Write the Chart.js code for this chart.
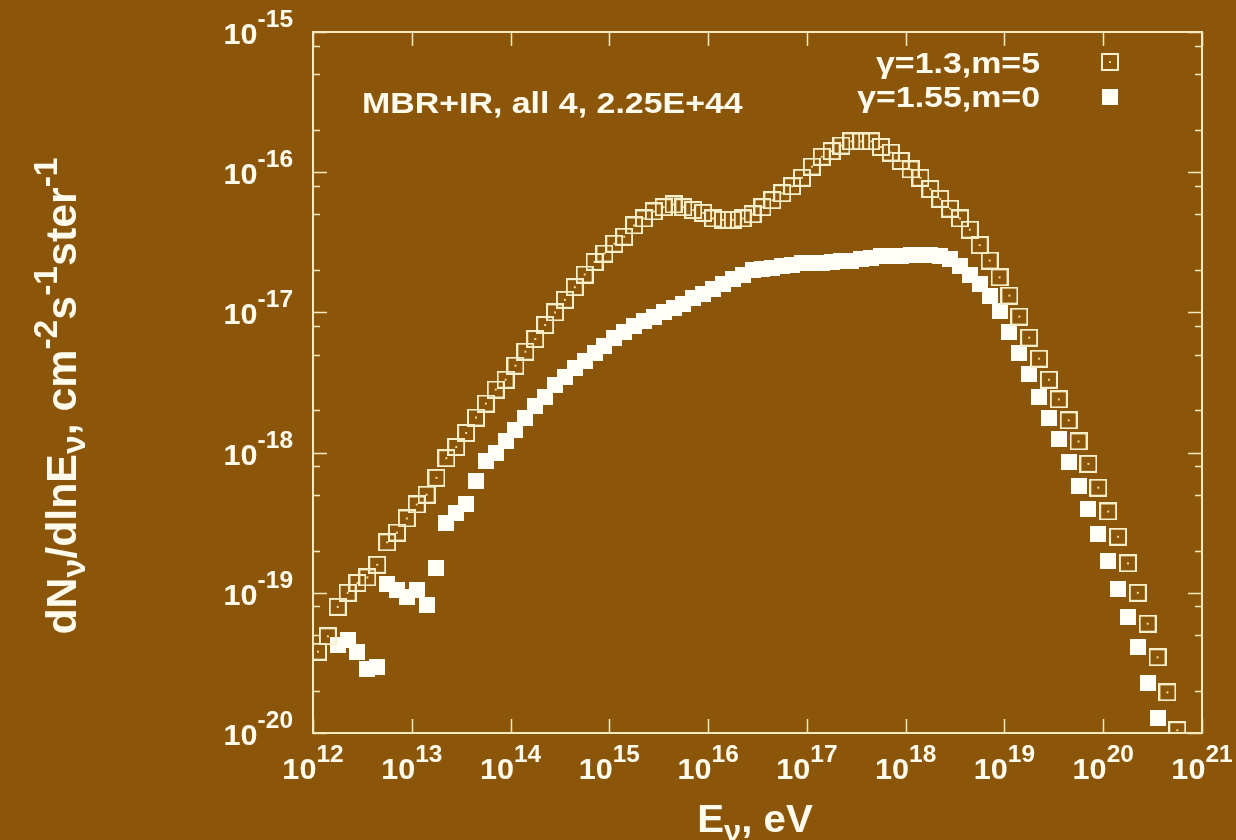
<!DOCTYPE html>
<html>
<head>
<meta charset="utf-8">
<script src="https://cdn.jsdelivr.net/npm/chart.js@4.4.1/dist/chart.umd.min.js"></script>
<style>
html,body{margin:0;padding:0;background:#8b5609;}
canvas{display:block;}
</style>
</head>
<body>
<canvas id="spec" width="1236" height="840"></canvas>
<script>
// energy grid, log10(E/eV)
const lgE = [
  12.05,12.15,12.25,12.35,12.45,12.55,12.65,12.75,12.85,12.95,
  13.05,13.15,13.25,13.35,13.45,13.55,13.65,13.75,13.85,13.95,
  14.05,14.15,14.25,14.35,14.45,14.55,14.65,14.75,14.85,14.95,
  15.05,15.15,15.25,15.35,15.45,15.55,15.65,15.75,15.85,15.95,
  16.05,16.15,16.25,16.35,16.45,16.55,16.65,16.75,16.85,16.95,
  17.05,17.15,17.25,17.35,17.45,17.55,17.65,17.75,17.85,17.95,
  18.05,18.15,18.25,18.35,18.45,18.55,18.65,18.75,18.85,18.95,
  19.05,19.15,19.25,19.35,19.45,19.55,19.65,19.75,19.85,19.95,
  20.05,20.15,20.25,20.35,20.45,20.55,20.65,20.75
];

// log10 of dN/dlnE, gamma=1.3, m=5
const lgFluxA = [
  -19.42,-19.31,-19.10,-19.00,-18.93,-18.89,-18.80,-18.64,-18.57,-18.47,
  -18.37,-18.30,-18.18,-18.04,-17.96,-17.86,-17.75,-17.65,-17.55,-17.48,
  -17.38,-17.28,-17.19,-17.09,-17.00,-16.91,-16.82,-16.73,-16.64,-16.58,
  -16.51,-16.46,-16.38,-16.33,-16.28,-16.25,-16.23,-16.25,-16.27,-16.29,
  -16.33,-16.34,-16.34,-16.33,-16.30,-16.25,-16.20,-16.15,-16.10,-16.04,
  -15.96,-15.89,-15.85,-15.81,-15.78,-15.78,-15.78,-15.82,-15.86,-15.92,
  -15.98,-16.04,-16.12,-16.19,-16.26,-16.33,-16.41,-16.52,-16.63,-16.75,
  -16.88,-17.03,-17.18,-17.33,-17.48,-17.62,-17.77,-17.92,-18.08,-18.25,
  -18.42,-18.60,-18.79,-19.00,-19.22,-19.46,-19.71,-19.98
];

// log10 of dN/dlnE, gamma=1.55, m=0 (no points in the first two and last two bins)
const lgFluxB = [
  null,null,-19.37,-19.34,-19.42,-19.54,-19.53,-18.94,-18.98,-19.03,
  -18.98,-19.09,-18.82,-18.50,-18.43,-18.37,-18.20,-18.06,-18.00,-17.92,
  -17.84,-17.75,-17.67,-17.60,-17.52,-17.46,-17.40,-17.35,-17.29,-17.24,
  -17.18,-17.14,-17.10,-17.06,-17.03,-17.00,-16.97,-16.94,-16.90,-16.87,
  -16.83,-16.80,-16.76,-16.73,-16.70,-16.69,-16.68,-16.67,-16.66,-16.65,
  -16.65,-16.65,-16.64,-16.63,-16.63,-16.62,-16.61,-16.60,-16.60,-16.60,
  -16.59,-16.59,-16.59,-16.60,-16.62,-16.67,-16.73,-16.80,-16.88,-16.99,
  -17.14,-17.29,-17.44,-17.60,-17.75,-17.90,-18.07,-18.24,-18.40,-18.58,
  -18.77,-18.97,-19.17,-19.39,-19.64,-19.89,null,null
];

const seriesLabels = ['γ=1.3,m=5', 'γ=1.55,m=0'];
const xDecades = [12,13,14,15,16,17,18,19,20,21];
const yDecades = [-15,-16,-17,-18,-19,-20];
const yMinorMult = [2,5,8];

const BG = '#8b5609';
const INK = '#fffbec';
const FRAME = '#f4e9bf';
const FONT = '"Liberation Sans", Arial, Helvetica, sans-serif';

function toPoints(lg) {
  const pts = [];
  for (let i = 0; i < lgE.length; i++) {
    if (lg[i] === null) continue;
    pts.push({x: Math.pow(10, lgE[i]), y: Math.pow(10, lg[i])});
  }
  return pts;
}

// marker sprites
function openBox() {
  const c = document.createElement('canvas');
  c.width = 18; c.height = 18;
  const g = c.getContext('2d');
  g.strokeStyle = '#f7efca';
  g.lineWidth = 2;
  g.strokeRect(1, 1, 16, 16);
  g.fillStyle = '#f3dc9a';
  g.fillRect(8, 8, 2, 2);
  return c;
}
function solidBox() {
  const c = document.createElement('canvas');
  c.width = 16; c.height = 16;
  const g = c.getContext('2d');
  g.fillStyle = '#fffef6';
  g.fillRect(0, 0, 16, 16);
  return c;
}
const markA = openBox();
const markB = solidBox();

// text with super/subscripts: parts = [[text, kind]], kind 1 = sup, -1 = sub
const tickText = {size: 30, small: 24, rise: 17, drop: 8, hs: 1.02};
const noteText = {size: 30, small: 24, rise: 14, drop: 8, hs: 1.13};
const xTitleText = {size: 39, small: 30, rise: 18, drop: 9, hs: 1.03};
const yTitleText = {size: 42, small: 33, rise: 19, drop: 9, hs: 1.02};

function partFont(kind, o) {
  return 'bold ' + (kind ? o.small : o.size) + 'px ' + FONT;
}
function richWidth(ctx, parts, o) {
  let w = 0;
  for (const [t, k] of parts) { ctx.font = partFont(k, o); w += ctx.measureText(t).width; }
  return w;
}
function drawRich(ctx, parts, x, y, o, align) {
  const w = richWidth(ctx, parts, o) * o.hs;
  const x0 = align === 'right' ? x - w : align === 'center' ? x - w / 2 : x;
  ctx.save();
  ctx.translate(x0, y);
  ctx.scale(o.hs, 1);
  ctx.textAlign = 'left';
  ctx.textBaseline = 'alphabetic';
  let cx = 0;
  for (const [t, k] of parts) {
    ctx.font = partFont(k, o);
    const dy = k === 1 ? -o.rise : k === -1 ? o.drop : 0;
    ctx.fillText(t, cx, dy);
    cx += ctx.measureText(t).width;
  }
  ctx.restore();
}

const framePlugin = {
  id: 'frame',
  beforeDraw(chart) {
    const ctx = chart.ctx;
    ctx.save();
    ctx.fillStyle = BG;
    ctx.fillRect(0, 0, chart.width, chart.height);
    ctx.restore();
  },
  beforeDatasetsDraw(chart) {
    const {ctx, chartArea: a, scales: {x, y}} = chart;
    ctx.save();
    ctx.strokeStyle = FRAME;
    ctx.lineWidth = 2;
    ctx.strokeRect(a.left, a.top, a.right - a.left, a.bottom - a.top);
    ctx.lineWidth = 1.5;
    ctx.beginPath();
    for (const d of xDecades) {
      const px = Math.round(x.getPixelForValue(Math.pow(10, d))) + 0.5;
      ctx.moveTo(px, a.bottom); ctx.lineTo(px, a.bottom - 14);
      ctx.moveTo(px, a.top); ctx.lineTo(px, a.top + 14);
    }
    for (const d of yDecades) {
      const py = Math.round(y.getPixelForValue(Math.pow(10, d))) + 0.5;
      ctx.moveTo(a.left, py); ctx.lineTo(a.left + 14, py);
      ctx.moveTo(a.right, py); ctx.lineTo(a.right - 14, py);
      if (d === -15) continue;
      for (const m of yMinorMult) {
        const pm = Math.round(y.getPixelForValue(m * Math.pow(10, d))) + 0.5;
        ctx.moveTo(a.left, pm); ctx.lineTo(a.left + 7, pm);
        ctx.moveTo(a.right, pm); ctx.lineTo(a.right - 7, pm);
      }
    }
    ctx.stroke();
    ctx.restore();
  },
  afterDraw(chart) {
    const {ctx, scales: {x, y}} = chart;
    ctx.save();
    ctx.fillStyle = INK;
    for (const d of yDecades) {
      const py = y.getPixelForValue(Math.pow(10, d));
      drawRich(ctx, [['10', 0], [String(d), 1]], 293, py + 12, tickText, 'right');
    }
    for (const d of xDecades) {
      const px = x.getPixelForValue(Math.pow(10, d));
      drawRich(ctx, [['10', 0], [String(d), 1]], px, 779, tickText, 'center');
    }
    // axis titles
    drawRich(ctx, [['E', 0], ['ν', -1], [', eV', 0]], 755, 832, xTitleText, 'center');
    ctx.save();
    ctx.translate(76, 396);
    ctx.rotate(-Math.PI / 2);
    drawRich(ctx, [['dN', 0], ['ν', -1], ['/dlnE', 0], ['ν', -1], [', cm', 0], ['-2', 1],
      ['s', 0], ['-1', 1], ['ster', 0], ['-1', 1]], 0, 0, yTitleText, 'center');
    ctx.restore();
    // run label
    drawRich(ctx, [['MBR+IR, all 4, 2.25E+44', 0]], 362, 113, noteText, 'left');
    // key
    drawRich(ctx, [[seriesLabels[0], 0]], 1040, 73, noteText, 'right');
    drawRich(ctx, [[seriesLabels[1], 0]], 1040, 107, noteText, 'right');
    ctx.drawImage(markA, 1110 - 9, 62 - 9);
    ctx.drawImage(markB, 1110 - 8, 97 - 8);
    ctx.restore();
  }
};

new Chart(document.getElementById('spec'), {
  type: 'scatter',
  data: {
    datasets: [
      {label: seriesLabels[0], data: toPoints(lgFluxA), pointStyle: markA, pointRadius: 9},
      {label: seriesLabels[1], data: toPoints(lgFluxB), pointStyle: markB, pointRadius: 8}
    ]
  },
  options: {
    responsive: false,
    animation: false,
    layout: {padding: {left: 313, right: 34, top: 32, bottom: 107}},
    plugins: {legend: {display: false}, tooltip: {enabled: false}},
    scales: {
      x: {type: 'logarithmic', min: 1e12, max: 1e21, display: false},
      y: {type: 'logarithmic', min: 1e-20, max: 1e-15, display: false}
    }
  },
  plugins: [framePlugin]
});
</script>
</body>
</html>
